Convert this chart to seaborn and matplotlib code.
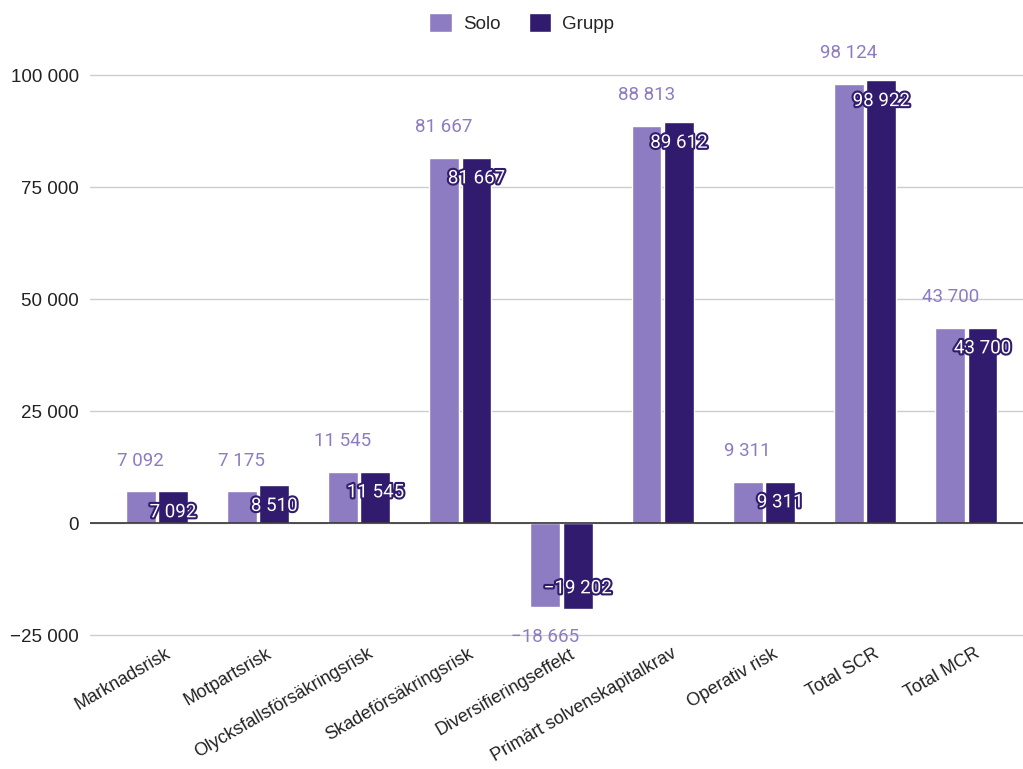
import matplotlib
matplotlib.use("Agg")
import matplotlib.pyplot as plt
import matplotlib.patheffects as pe
import matplotlib.transforms as mtrans
import pandas as pd
import seaborn as sns

# -- data
categories = ["Marknadsrisk", "Motpartsrisk", "Olycksfallsförsäkringsrisk",
              "Skadeförsäkringsrisk", "Diversifieringseffekt",
              "Primärt solvenskapitalkrav", "Operativ risk", "Total SCR", "Total MCR"]
solo = [7092, 7175, 11545, 81667, -18665, 88813, 9311, 98124, 43700]
grupp = [7092, 8510, 11545, 81667, -19202, 89612, 9311, 98922, 43700]
series = ["Solo", "Grupp"]
yticks = [-25000, 0, 25000, 50000, 75000, 100000]

df = pd.DataFrame({
    "Kategori": categories * 2,
    "Serie": ["Solo"] * len(categories) + ["Grupp"] * len(categories),
    "Värde": solo + grupp,
})

SOLO_C = "#8e7cc3"
GRUPP_C = "#311b6e"


def fmt(v):
    return f"{v:,.0f}".replace(",", " ").replace("-", "\u2212")


sns.set_theme(style="white")
plt.rcParams["font.family"] = ["Liberation Sans", "DejaVu Sans"]

fig = plt.figure(figsize=(10.23, 7.69), dpi=100)
ax = fig.add_axes([0.088, 0.170, 0.912, 0.761])

sns.barplot(data=df, x="Kategori", y="Värde", hue="Serie", hue_order=series,
            palette=[SOLO_C, GRUPP_C], width=0.64, gap=0.08, ax=ax,
            saturation=1, legend=True)

ax.set_ylim(-25700, 105000)
ax.set_xlim(-0.66, 8.56)
ax.set_yticks(yticks)
ax.set_yticklabels([fmt(t) for t in yticks], fontsize=13.5, color="#222222")
ax.yaxis.grid(True, color="#cccccc", linewidth=1)
ax.set_axisbelow(True)
ax.axhline(0, color="#333333", linewidth=1.2, zorder=3)
for s in ax.spines.values():
    s.set_visible(False)
ax.tick_params(axis="y", length=0, pad=8)
ax.tick_params(axis="x", length=0, pad=5)
ax.set_xlabel("")
ax.set_ylabel("")
shift = mtrans.ScaledTranslation(8 / 100, 0, fig.dpi_scale_trans)
for lab in ax.get_xticklabels():
    lab.set_rotation(30)
    lab.set_ha("right")
    lab.set_rotation_mode("anchor")
    lab.set_fontsize(13)
    lab.set_color("#222222")
    lab.set_transform(lab.get_transform() + shift)

# -- data labels
for cont, col in zip(ax.containers, series):
    for bar in cont:
        v = bar.get_y() if bar.get_y() < 0 else bar.get_height()
        xc = bar.get_x() + bar.get_width() / 2
        if col == "Solo":
            off = 22 if v >= 0 else -22
            ax.annotate(fmt(v), (xc, v), xytext=(0, off), textcoords="offset points",
                        ha="center", va="center", fontsize=13.5, color=SOLO_C,
                        family="Roboto", annotation_clip=False)
        else:
            off = -15 if v >= 0 else 15
            ax.annotate(fmt(v), (xc, v), xytext=(0, off), textcoords="offset points",
                        ha="center", va="center", fontsize=13.5, color="white",
                        family="Roboto", zorder=5,
                        path_effects=[pe.withStroke(linewidth=3, foreground=GRUPP_C)])

handles, labels = ax.get_legend_handles_labels()
ax.legend_.remove()
fig.legend(handles, labels, loc="center", bbox_to_anchor=(0.51, 1 - 23 / 769), ncol=2,
           frameon=False, fontsize=13.5, handlelength=1.2, handleheight=1.2,
           columnspacing=1.5, handletextpad=0.6)

fig.savefig("out.png", dpi=100)
